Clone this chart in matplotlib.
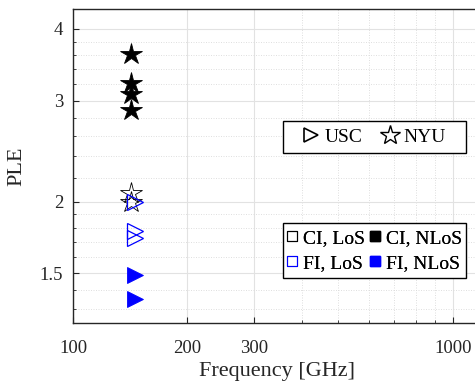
import numpy as np
import matplotlib
matplotlib.use('Agg')
import matplotlib.pyplot as plt
from matplotlib.lines import Line2D
from matplotlib.patches import Rectangle
from matplotlib.ticker import FixedLocator, NullFormatter, FixedFormatter

plt.rcParams['font.family'] = ['Liberation Serif', 'DejaVu Serif']

# NYU (142 GHz) path loss exponents
nyu_freq = 142
nyu_ci_nlos = [3.62, 3.22, 3.08, 2.89]
nyu_ci_los = [2.07, 2.00]

# USC (146 GHz) path loss exponents
usc_freq = 146
usc_fi_los = [2.00, 1.78, 1.73]
usc_fi_nlos = [1.49, 1.355]

xticks = [100, 200, 300, 1000]
xtick_labels = ['100', '200', '300', '1000']
xminor = [400, 500, 600, 700, 800, 900]
yticks = [1.5, 2, 3, 4]
ytick_labels = ['1.5', '2', '3', '4']
yminor = [1.3, 1.4, 1.6, 1.7, 1.8, 1.9, 2.2, 2.4, 2.6, 2.8, 3.2, 3.4, 3.6, 3.8]

fig = plt.figure(figsize=(4.75, 3.81), dpi=100)
ax = fig.add_axes([0.1537, 0.152, 0.86, 0.824])

ax.plot([nyu_freq] * len(nyu_ci_nlos), nyu_ci_nlos, linestyle='none', marker='*',
        markersize=16, color='k', markeredgewidth=0.6)
ax.plot([nyu_freq] * len(nyu_ci_los), nyu_ci_los, linestyle='none', marker='*',
        markersize=16, markerfacecolor='none', markeredgecolor='k', markeredgewidth=0.6)
ax.plot([usc_freq] * len(usc_fi_los), usc_fi_los, linestyle='none', marker='>',
        markersize=11, markerfacecolor='none', markeredgecolor='blue', markeredgewidth=0.9)
ax.plot([usc_freq] * len(usc_fi_nlos), usc_fi_nlos, linestyle='none', marker='>',
        markersize=11, color='blue', markeredgewidth=0.6)

ax.set_xscale('log')
ax.set_yscale('log')
ax.set_xlim(100, 1190)
ax.set_ylim(1.228, 4.33)

ax.xaxis.set_major_locator(FixedLocator(xticks))
ax.xaxis.set_major_formatter(FixedFormatter(xtick_labels))
ax.xaxis.set_minor_locator(FixedLocator(xminor))
ax.xaxis.set_minor_formatter(NullFormatter())
ax.yaxis.set_major_locator(FixedLocator(yticks))
ax.yaxis.set_major_formatter(FixedFormatter(ytick_labels))
ax.yaxis.set_minor_locator(FixedLocator(yminor))
ax.yaxis.set_minor_formatter(NullFormatter())

ax.grid(which='major', color='#e2e2e2', linewidth=0.8, linestyle='-')
ax.grid(which='minor', color='#dadada', linewidth=0.6, linestyle=(0, (1.2, 1.8)))
ax.set_axisbelow(True)

ax.tick_params(which='both', direction='in', top=False, right=False,
               labelsize=13.5, colors='#262626')
ax.tick_params(axis='x', pad=12)
ax.tick_params(axis='y', pad=7)
ax.tick_params(which='major', length=4)
ax.tick_params(which='minor', length=2.5)
for sp in ax.spines.values():
    sp.set_color('#262626')
    sp.set_linewidth(1.0)

ax.set_xlabel('Frequency [GHz]', fontsize=16, color='#262626', labelpad=4)
ax.set_ylabel('PLE', fontsize=16, color='#262626', labelpad=10)


def boxed_legend(handles, labels, box, **kw):
    # fixed-size frame with the legend entries centred inside it
    x0, y0, x1, y1 = box
    ax.add_patch(Rectangle((x0, y0), x1 - x0, y1 - y0, transform=ax.transAxes,
                           facecolor='white', edgecolor='k', linewidth=1.0, zorder=4))
    leg = ax.legend(handles, labels, loc='center',
                    bbox_to_anchor=((x0 + x1) / 2, (y0 + y1) / 2),
                    frameon=False, borderpad=0, borderaxespad=0, **kw)
    leg.set_zorder(5)
    ax.add_artist(leg)
    return leg


# site legend
site_handles = [
    Line2D([], [], linestyle='none', marker='>', markersize=10, markerfacecolor='none',
           markeredgecolor='k', markeredgewidth=1.2),
    Line2D([], [], linestyle='none', marker='*', markersize=15, markerfacecolor='none',
           markeredgecolor='k', markeredgewidth=1.0),
]
boxed_legend(site_handles, ['USC', 'NYU'], (0.514, 0.541, 0.962, 0.643),
             ncol=2, fontsize=14, handlelength=0.8, handletextpad=0.3, columnspacing=1.0)

# model / scenario legend
model_handles = [
    Line2D([], [], linestyle='none', marker='s', markersize=7, markerfacecolor='none',
           markeredgecolor='k', markeredgewidth=0.8),
    Line2D([], [], linestyle='none', marker='s', markersize=7, markerfacecolor='none',
           markeredgecolor='blue', markeredgewidth=0.8),
    Line2D([], [], linestyle='none', marker='s', markersize=7, color='k'),
    Line2D([], [], linestyle='none', marker='s', markersize=7, color='blue'),
]
boxed_legend(model_handles, ['CI, LoS', 'FI, LoS', 'CI, NLoS', 'FI, NLoS'],
             (0.514, 0.143, 0.962, 0.318), ncol=2, fontsize=14, handlelength=0.5,
             handletextpad=0.3, columnspacing=0.3, labelspacing=0.4)

fig.savefig('out.png', dpi=100)
